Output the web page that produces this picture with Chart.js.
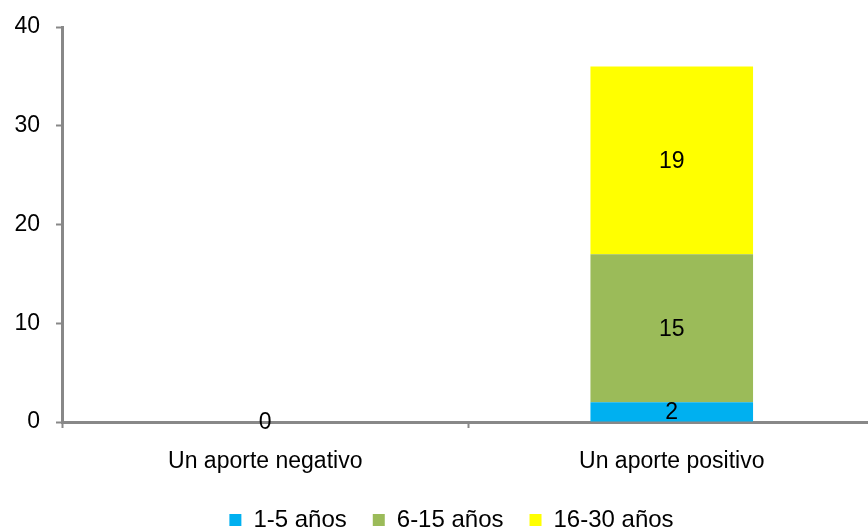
<!DOCTYPE html>
<html lang="es">
<head>
    <meta charset="UTF-8">
    <title>Aporte por antigüedad</title>
    <script src="https://cdn.jsdelivr.net/npm/chart.js"></script>
    <style>
        html, body { margin: 0; padding: 0; background: #fff; overflow: hidden; }
        #grafico { display: block; }
    </style>
</head>
<body>
    <canvas id="grafico" width="875" height="531"></canvas>
    <script>
        // datos
        const categorias = ['Un aporte negativo', 'Un aporte positivo'];
        const serie1a5 = [0, 2];
        const serie6a15 = [null, 15];
        const serie16a30 = [null, 19];
        const ticksY = [0, 10, 20, 30, 40];

        const fuente = "'Liberation Sans', Arial, sans-serif";

        // etiquetas de valor dentro de las barras
        const etiquetas = {
            id: 'etiquetas',
            afterDatasetsDraw(chart) {
                const ctx = chart.ctx;
                ctx.save();
                ctx.font = '23px ' + fuente;
                ctx.fillStyle = '#000';
                ctx.textAlign = 'center';
                ctx.textBaseline = 'middle';
                chart.data.datasets.forEach((ds, i) => {
                    chart.getDatasetMeta(i).data.forEach((bar, j) => {
                        const v = ds.data[j];
                        if (v === null || v === undefined) return;
                        const p = bar.getProps(['x', 'y', 'base'], true);
                        ctx.fillText(String(v), p.x, (p.y + p.base) / 2 + 1);
                    });
                });
                ctx.restore();
            }
        };

        // altura fija de la leyenda y pequeño desplazamiento a la derecha
        const ajusteLeyenda = {
            id: 'ajusteLeyenda',
            beforeLayout(chart) {
                const ley = chart.legend;
                if (ley && !ley._parcheado) {
                    const fitOrig = ley.fit;
                    ley.fit = function () {
                        fitOrig.call(this);
                        this.height = 49;
                    };
                    ley._parcheado = true;
                }
            },
            afterLayout(chart) {
                const ley = chart.legend;
                if (ley) {
                    ley.left += 14;
                    ley.right += 14;
                }
            }
        };

        const grafico = new Chart(document.getElementById('grafico'), {
            type: 'bar',
            data: {
                labels: categorias,
                datasets: [
                    { label: '1-5 años', data: serie1a5, backgroundColor: '#00B0F0' },
                    { label: '6-15 años', data: serie6a15, backgroundColor: '#9BBB59' },
                    { label: '16-30 años', data: serie16a30, backgroundColor: '#FFFF00' }
                ]
            },
            options: {
                responsive: false,
                animation: false,
                layout: { padding: { top: 27, right: 0, left: 0, bottom: 0 } },
                datasets: { bar: { categoryPercentage: 0.40, barPercentage: 1 } },
                plugins: {
                    tooltip: { enabled: false },
                    legend: {
                        position: 'bottom',
                        labels: {
                            font: { family: fuente, size: 24 },
                            color: '#000',
                            boxWidth: 12,
                            boxHeight: 12,
                            padding: 26
                        }
                    }
                },
                scales: {
                    x: {
                        stacked: true,
                        afterFit(scale) { scale.height = 60; },
                        grid: {
                            offset: true,
                            drawOnChartArea: false,
                            tickLength: 6,
                            tickWidth: 2,
                            color: '#888'
                        },
                        border: { color: '#888', width: 3 },
                        ticks: {
                            font: { family: fuente, size: 23 },
                            color: '#000',
                            padding: 20
                        }
                    },
                    y: {
                        stacked: true,
                        min: 0,
                        max: 40,
                        afterFit(scale) {
                            scale.width = 62;
                            scale.paddingTop = 0;
                            scale.paddingBottom = 0;
                        },
                        afterBuildTicks(scale) { scale.ticks = ticksY.map(v => ({ value: v })); },
                        grid: {
                            drawOnChartArea: false,
                            tickLength: 6,
                            tickWidth: 2,
                            color: '#888'
                        },
                        border: { color: '#888', width: 3 },
                        ticks: {
                            font: { family: fuente, size: 23 },
                            color: '#000',
                            padding: 16
                        }
                    }
                }
            },
            plugins: [etiquetas, ajusteLeyenda]
        });
    </script>
</body>
</html>
